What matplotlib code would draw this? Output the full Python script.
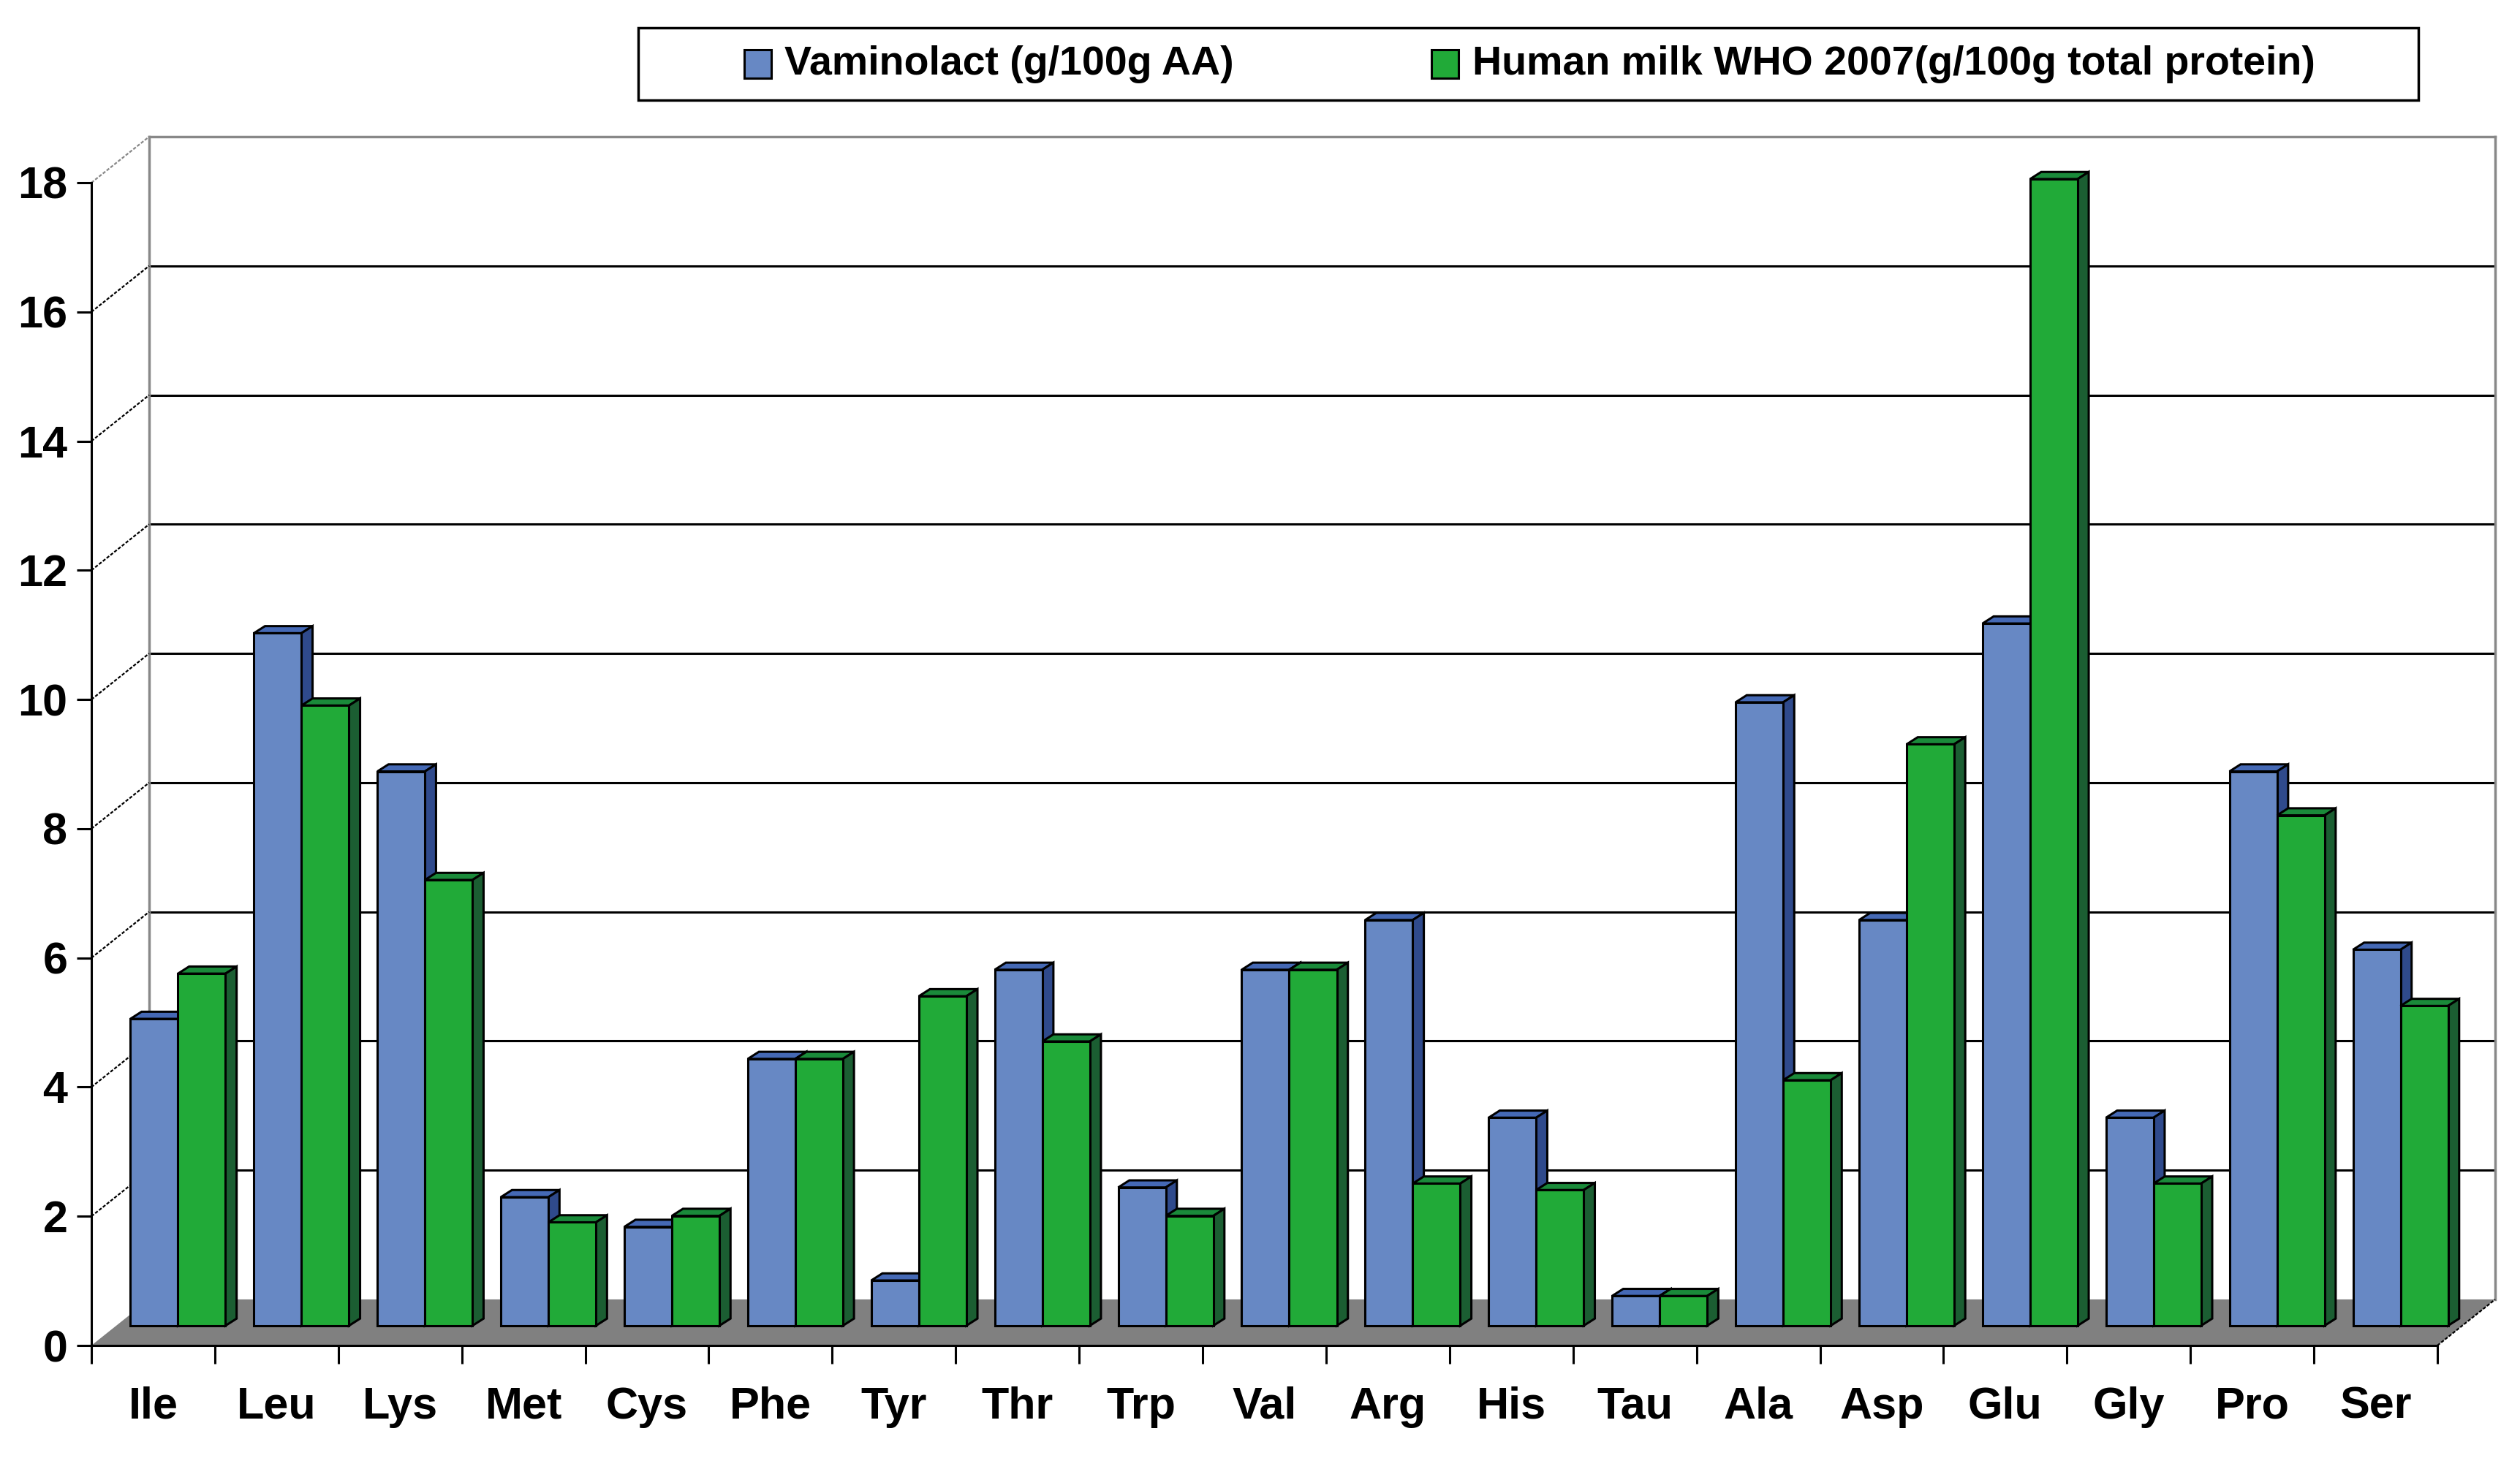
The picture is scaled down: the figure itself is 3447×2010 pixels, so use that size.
import matplotlib
matplotlib.use("Agg")
import matplotlib.pyplot as plt
from matplotlib.patches import Polygon, Rectangle

plt.rcParams['font.family'] = ['Liberation Sans Narrow', 'Liberation Sans', 'DejaVu Sans']
plt.rcParams['font.weight'] = 'bold'

amino = ["Ile", "Leu", "Lys", "Met", "Cys", "Phe", "Tyr", "Thr", "Trp", "Val",
         "Arg", "His", "Tau", "Ala", "Asp", "Glu", "Gly", "Pro", "Ser"]
vaminolact = [4.75, 10.72, 8.58, 1.99, 1.53, 4.13, 0.7, 5.51, 2.14, 5.51,
              6.28, 3.22, 0.46, 9.65, 6.28, 10.87, 3.22, 8.58, 5.82]
human_milk = [5.45, 9.6, 6.9, 1.6, 1.7, 4.13, 5.1, 4.4, 1.7, 5.51,
              2.2, 2.1, 0.46, 3.8, 9.0, 17.75, 2.2, 7.9, 4.95]
series_names = ["Vaminolact (g/100g AA)", "Human milk WHO 2007(g/100g total protein)"]

W, H = 3448, 2010
fig = plt.figure(figsize=(W / 100, H / 100), dpi=100)
ax = fig.add_axes([125 / W, (H - 1841) / H, 3209 / W, (1841 - 250) / H])
n = len(amino)
ax.set_xlim(0, n)
ax.set_ylim(0, 18)

# depth of the 3d box, in data units
DX, DY = 0.468, 0.713
# bars stand part way into the box
OX, OY = 0.43 * DX, 0.43 * DY
# depth of one bar
BX, BY = 0.09, 0.11
bw = 0.385
pad = 0.115

# back wall grid
for v in range(2, 18, 2):
    ax.plot([DX, n + DX], [v + DY, v + DY], color="black", lw=2.2, zorder=0.5, clip_on=False)
ax.plot([DX, n + DX], [18 + DY, 18 + DY], color="#888888", lw=2.5, zorder=0.5, clip_on=False)
ax.plot([DX, DX], [DY, 18 + DY], color="#888888", lw=2.5, zorder=0.5, clip_on=False)
ax.plot([n + DX, n + DX], [DY, 18 + DY], color="#888888", lw=2.5, zorder=0.5, clip_on=False)
# side wall grid
for v in range(2, 18, 2):
    ax.plot([0, DX], [v, v + DY], color="black", lw=1.6, ls=(0, (2, 1)), zorder=0.5, clip_on=False)
ax.plot([0, DX], [18, 18 + DY], color="#888888", lw=1.6, ls=(0, (2, 1)), zorder=0.5, clip_on=False)

# floor
ax.add_patch(Polygon([(0, 0), (n, 0), (n + DX, DY), (DX, DY)], closed=True,
                     facecolor="#808080", edgecolor="none", zorder=1, clip_on=False))
ax.plot([n, n + DX], [0, DY], color="black", lw=1.6, ls=(0, (2, 1)), zorder=1.5, clip_on=False)

styles = [("#6788C4", "#4569B5", "#2F4A8C"), ("#21AA38", "#1A8A3A", "#1B5E32")]
for s, vals in enumerate([vaminolact, human_milk]):
    front, top, side = styles[s]
    z = 3 + 2 * s
    lefts = [i + pad + OX + s * bw for i in range(n)]
    ax.bar(lefts, vals, width=bw, bottom=OY, align="edge", color=front,
           edgecolor="black", linewidth=2.2, zorder=z + 1, clip_on=False)
    for x0, v in zip(lefts, vals):
        y1 = OY + v
        ax.add_patch(Polygon([(x0, y1), (x0 + bw, y1), (x0 + bw + BX, y1 + BY), (x0 + BX, y1 + BY)],
                             closed=True, facecolor=top, edgecolor="black", lw=2.2, zorder=z, clip_on=False))
        ax.add_patch(Polygon([(x0 + bw, OY), (x0 + bw, y1), (x0 + bw + BX, y1 + BY), (x0 + bw + BX, OY + BY)],
                             closed=True, facecolor=side, edgecolor="black", lw=2.2, zorder=z, clip_on=False))

# axes
for sp in ["top", "right"]:
    ax.spines[sp].set_visible(False)
for sp in ["left", "bottom"]:
    ax.spines[sp].set_linewidth(2.2)
    ax.spines[sp].set_zorder(2)
ax.set_yticks(range(0, 19, 2))
ax.tick_params(axis="y", length=14.4, width=2.2, pad=9, labelsize=44)
ax.set_xticks(range(0, n + 1))
ax.set_xticklabels([])
ax.tick_params(axis="x", which="major", length=18, width=2.2)
ax.set_xticks([i + 0.5 for i in range(n)], minor=True)
ax.set_xticklabels(amino, minor=True)
ax.tick_params(axis="x", which="minor", length=0, pad=40, labelsize=44)

# legend box
fig.patches.append(Rectangle((873 / W, 1 - 137 / H), (3308 - 873) / W, 99 / H, transform=fig.transFigure,
                             facecolor="white", edgecolor="black", lw=2.5, zorder=10))
for s, (mx, tx) in enumerate([(1018, 1073), (1958, 2014)]):
    fig.patches.append(Rectangle((mx / W, 1 - 107 / H), 37 / W, 39 / H, transform=fig.transFigure,
                                 facecolor=styles[s][0], edgecolor="black", lw=2.2, zorder=11))
    fig.text(tx / W, 1 - 88 / H, series_names[s], fontsize=40, fontweight="bold",
             va="center", ha="left", zorder=12)

fig.savefig("out.png", dpi=100, facecolor="white")
